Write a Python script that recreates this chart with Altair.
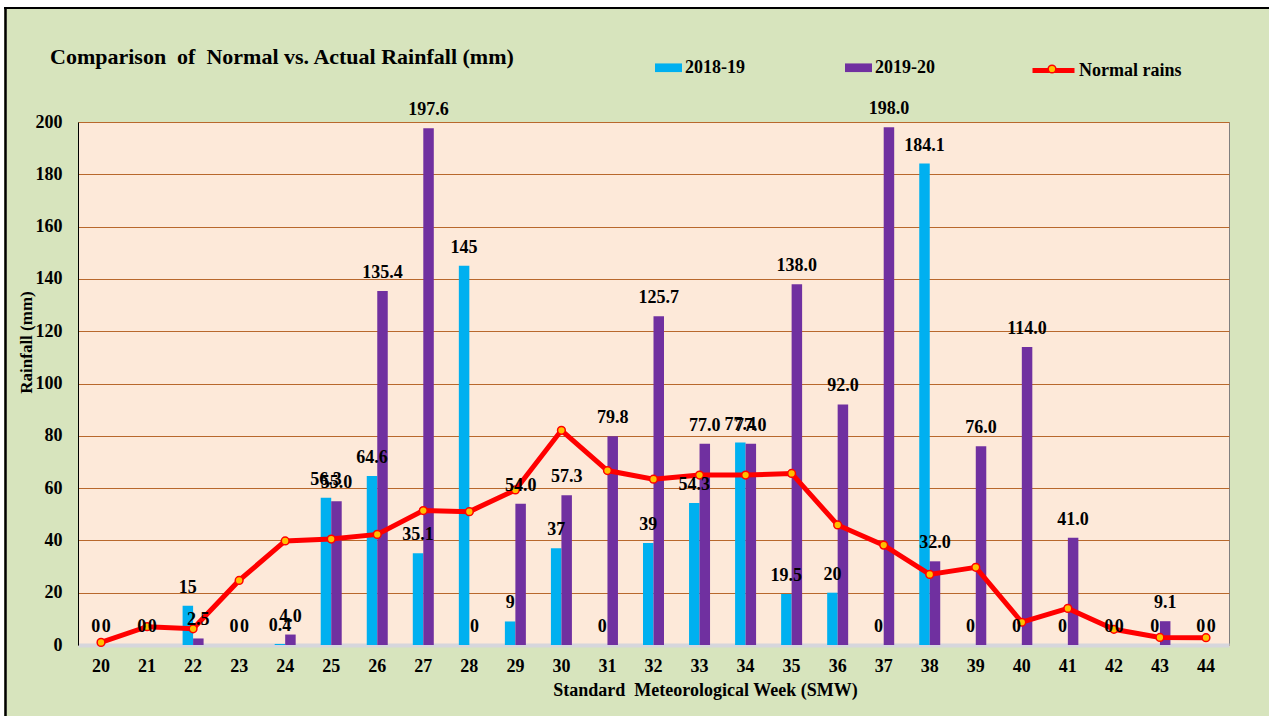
import altair as alt
import pandas as pd

FONT = "Liberation Serif"

weeks = list(range(20, 45))
rain_2018_19 = [0, 0, 15, 0, 0.4, 56.3, 64.6, 35.1, 145, 9, 37, 0, 39, 54.3, 77.4,
                19.5, 20, 0, 184.1, 0, 0, 0, 0, 0, 0]
rain_2019_20 = [0.0, 0.0, 2.5, 0.0, 4.0, 55.0, 135.4, 197.6, 0.0, 54.0, 57.3, 79.8,
                125.7, 77.0, 77.0, 138.0, 92.0, 198.0, 32.0, 76.0, 114.0, 41.0, 0.0, 9.1, 0.0]
normal_rains = [1.0, 7.0, 6.2, 24.7, 39.8, 40.5, 42.3, 51.4, 51.0, 59.3, 82.1, 66.7,
                63.4, 65.0, 65.0, 65.6, 45.9, 38.2, 27.0, 29.7, 8.7, 14.0, 6.0, 2.9, 2.8]
years = ["2018-19", "2019-20"]
year_colors = ["#00b0f0", "#7030a0"]
y_ticks = list(range(0, 201, 20))

df_bars = pd.DataFrame({
    "Week": weeks * 2,
    "Year": [years[0]] * len(weeks) + [years[1]] * len(weeks),
    "Value": rain_2018_19 + rain_2019_20,
})
df_bars["Label"] = [f"{v:g}" for v in rain_2018_19] + \
    ["0" if v == 0 else f"{v:.1f}" for v in rain_2019_20]

df_line = pd.DataFrame({"Week": weeks, "Normal": normal_rains,
                        "Series": "Normal rains", "Marker": "Normal rains"})

W, H = 1151, 523
PAD = {"left": 78, "top": 122, "right": 40, "bottom": 71}

x_axis = alt.Axis(
    title="Standard\u00a0 Meteorological Week (SMW)", labelAngle=0, ticks=False, tickSize=0,
    labelFont=FONT, labelFontSize=18, labelFontWeight="bold", labelColor="black",
    labelPadding=12, domainColor="#d6d6dc", domainWidth=4, grid=False,
    titleFont=FONT, titleFontSize=18, titleFontWeight="bold", titleColor="black",
    titleX=627, titleY=45, titleAlign="center", titleBaseline="middle",
)
y_axis = alt.Axis(
    title="Rainfall (mm)", values=y_ticks, ticks=False, tickSize=0,
    labelFont=FONT, labelFontSize=18, labelFontWeight="bold", labelColor="black",
    labelPadding=16, domainColor="black", domainWidth=1,
    grid=True, gridColor="#b8682c", gridWidth=1,
    titleFont=FONT, titleFontSize=17, titleFontWeight="bold", titleColor="black",
    titleX=-52, titleY=220, titleAngle=270, titleAlign="center", titleBaseline="middle",
)
x_scale = alt.Scale(paddingInner=0.544, paddingOuter=0.272)
y_scale = alt.Scale(domain=[0, 200], nice=False)
off_scale = alt.Scale(domain=years)

bars = alt.Chart(df_bars).mark_bar().encode(
    x=alt.X("Week:O", scale=x_scale, axis=x_axis),
    xOffset=alt.XOffset("Year:N", scale=off_scale),
    y=alt.Y("Value:Q", scale=y_scale, axis=y_axis),
    color=alt.Color("Year:N", scale=alt.Scale(domain=years, range=year_colors),
                    legend=alt.Legend(
                        title=None, orient="none", legendX=577, legendY=-68,
                        direction="horizontal", columns=2, columnPadding=100,
                        padding=0, symbolType="M-1,-0.32L1,-0.32L1,0.32L-1,0.32Z",
                        symbolSize=729, symbolStrokeWidth=0, symbolOpacity=1,
                        labelOffset=3, labelFont=FONT, labelFontSize=18,
                        labelFontWeight="bold", labelColor="black")),
)

texts = alt.Chart(df_bars).mark_text(
    font=FONT, fontSize=18, fontWeight="bold", color="black",
    baseline="alphabetic", dy=-13,
).encode(
    x=alt.X("Week:O", scale=x_scale, axis=x_axis),
    xOffset=alt.XOffset("Year:N", scale=off_scale),
    y=alt.Y("Value:Q", scale=y_scale, axis=y_axis),
    text="Label:N",
)

line = alt.Chart(df_line).mark_line(strokeWidth=5).encode(
    x=alt.X("Week:O", scale=x_scale, axis=x_axis),
    y=alt.Y("Normal:Q", scale=y_scale, axis=y_axis),
    stroke=alt.Stroke("Series:N", scale=alt.Scale(domain=["Normal rains"], range=["#ff0000"]),
                      legend=alt.Legend(
                          title=None, orient="none", legendX=952, legendY=-75, padding=0,
                          symbolType="stroke", symbolSize=1764, symbolStrokeWidth=5,
                          labelOffset=2, labelFont=FONT, labelFontSize=18,
                          labelFontWeight="bold", labelColor="black")),
)

points = alt.Chart(df_line).mark_circle(size=60, stroke="#ff0000", strokeWidth=1.5, opacity=1).encode(
    x=alt.X("Week:O", scale=x_scale, axis=x_axis),
    y=alt.Y("Normal:Q", scale=y_scale, axis=y_axis),
    fill=alt.Fill("Marker:N", scale=alt.Scale(domain=["Normal rains"], range=["#ffc000"]),
                  legend=alt.Legend(
                      title=None, orient="none", legendX=969, legendY=-58, padding=0,
                      symbolType="circle", symbolSize=60, symbolStrokeColor="#ff0000",
                      symbolStrokeWidth=1.5, symbolOpacity=1, labelExpr="''",
                      labelFontSize=1)),
)

one = pd.DataFrame({"d": [0]})
frame_white_top = alt.Chart(one).mark_rect(color="white").encode(
    x=alt.value(-78), x2=alt.value(1191), y=alt.value(-122), y2=alt.value(-115))
frame_white_left = alt.Chart(one).mark_rect(color="white").encode(
    x=alt.value(-78), x2=alt.value(-74), y=alt.value(-122), y2=alt.value(594))
frame_top = alt.Chart(one).mark_rule(color="black", strokeWidth=2).encode(
    x=alt.value(-74), x2=alt.value(1191), y=alt.value(-114))
frame_left = alt.Chart(one).mark_rule(color="black", strokeWidth=2.5).encode(
    x=alt.value(-72.5), y=alt.value(-115), y2=alt.value(594))

chart = alt.layer(
    frame_white_top, frame_white_left, frame_top, frame_left,
    bars, line, points, texts,
).resolve_scale(
    color="independent", stroke="independent", fill="independent"
).properties(
    width=W, height=H,
    autosize=alt.AutoSizeParams(type="none"),
    padding=PAD,
    background="#d7e4bd",
    title=alt.TitleParams(
        "Comparison\u00a0 of\u00a0 Normal vs. Actual Rainfall (mm)", anchor="start", frame="group",
        orient="top", offset=0, baseline="middle", dx=-28, dy=79,
        font=FONT, fontSize=22, fontWeight="bold", color="black"),
).configure_view(
    fill="#fde9d9", stroke="#7f7f7f", strokeWidth=1
)

chart.save("out.html", embed_options={"renderer": "svg", "actions": False})
